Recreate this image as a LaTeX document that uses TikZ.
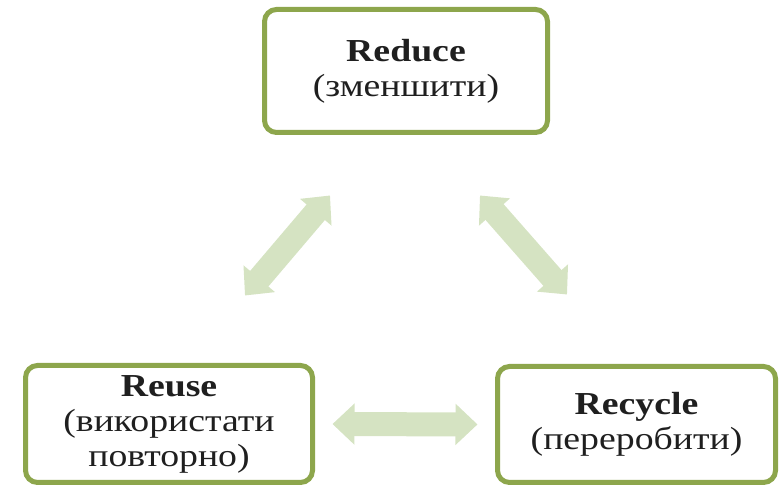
\documentclass[tikz,border=0pt]{standalone}
\usepackage{fontspec}
\setmainfont[FakeStretch=1.18]{Liberation Serif}
\usetikzlibrary{arrows.meta,shadows}

\definecolor{boxgreen}{HTML}{8DA64C}
\definecolor{arrowgreen}{HTML}{D5E3C2}

\tikzset{
  stage/.style={draw=boxgreen, line width=5pt, fill=white, rounded corners=12pt,
    align=center, inner sep=0pt, text=black!88,
    font=\fontsize{32}{35}\selectfont,
    execute at begin node=\setlength{\lineskiplimit}{-50pt},
    drop shadow={shadow xshift=1.5pt, shadow yshift=-1.5pt, opacity=.25, fill=black!60}},
  link/.style={arrowgreen, line width=24pt,
    {Triangle[width=40pt,length=22pt]}-{Triangle[width=40pt,length=22pt]}}
}

\begin{document}
\begin{tikzpicture}[x=1pt, y=1pt]
    \useasboundingbox (0,0) rectangle (779,489);
    \node[stage, minimum width=283pt, minimum height=123pt] (reduce) at (406,418)
        {\textbf{Reduce}\\(зменшити)};
    \node[stage, minimum width=287pt, minimum height=117pt] (reuse) at (169,65)
        {\textbf{Reuse}\\(використати\\повторно)};
    \node[stage, minimum width=278pt, minimum height=116pt] (recycle) at (636.5,64.5)
        {\textbf{Recycle}\\(переробити)};
    % links between the three stages
    \draw[link] ([shift={(-76,-60.5)}]reduce.south) -- ([shift={(76,67.5)}]reuse.north);
    \draw[link] ([shift={(74,-60.5)}]reduce.south) -- ([shift={(-69.5,69.5)}]recycle.north);
    \draw[link, shorten <=17.5pt, shorten >=17.5pt] (reuse.east) -- (recycle.west);
\end{tikzpicture}
\end{document}
